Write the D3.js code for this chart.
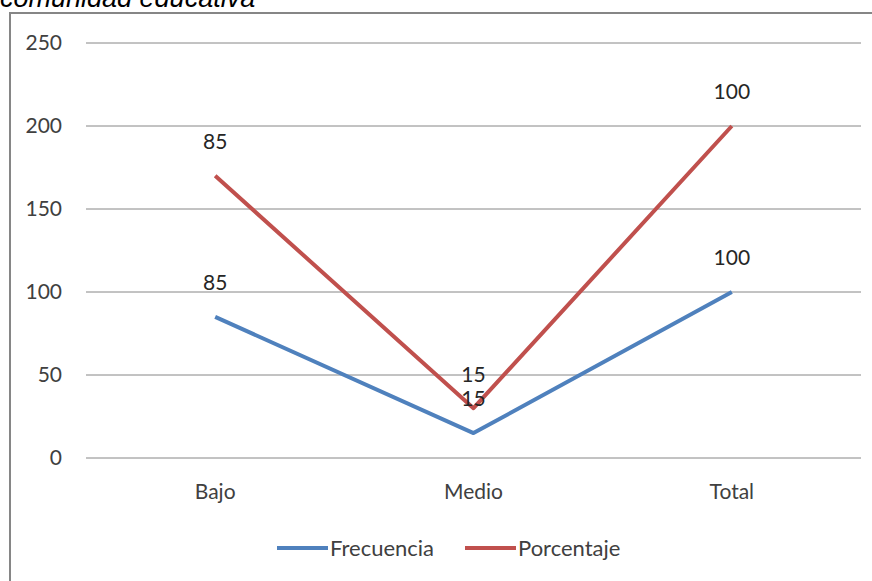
<!DOCTYPE html>
<html><head><meta charset="utf-8">
<script src="https://cdn.jsdelivr.net/npm/d3@7"></script>
<style>body{margin:0;background:#fff;}svg{display:block;}</style>
</head><body>
<svg id="c" width="872" height="581"></svg>
<script>
const categories = ["Bajo", "Medio", "Total"];
const frecuencia = [85, 15, 100];
const porcentaje = [85, 15, 100];
const yTicks = [0, 50, 100, 150, 200, 250];
const seriesNames = ["Frecuencia", "Porcentaje"];
const colors = ["#4F81BD", "#C0504D"];

const svg = d3.select("#c");
const font = "Lato, 'Open Sans', sans-serif";
const fs = 21;

svg.append("text").attr("x", 0).attr("y", 7)
  .attr("font-family", "Arial, 'Liberation Sans', sans-serif")
  .attr("font-style", "italic").attr("font-size", 27).attr("fill", "#000")
  .text("comunidad educativa");

svg.append("rect").attr("x", 10).attr("y", 13).attr("width", 880).attr("height", 600)
  .attr("fill", "#fff").attr("stroke", "#868686").attr("stroke-width", 2);

const x = d3.scaleBand().domain(categories).range([86, 861]);
const y = d3.scaleLinear().domain([0, 250]).range([458, 43]);

const gy = svg.append("g");
yTicks.forEach(t => {
  gy.append("line").attr("x1", 86).attr("x2", 861).attr("y1", y(t)).attr("y2", y(t))
    .attr("stroke", "#868686").attr("stroke-width", 1);
  gy.append("text").attr("x", 62).attr("y", y(t)).attr("dy", "0.35em")
    .attr("text-anchor", "end").attr("font-family", font).attr("font-size", fs)
    .attr("fill", "#404040").text(t);
});
categories.forEach(c => {
  svg.append("text").attr("x", x(c) + x.bandwidth() / 2).attr("y", 492).attr("dy", "0.35em")
    .attr("text-anchor", "middle").attr("font-family", font).attr("font-size", fs)
    .attr("fill", "#404040").text(c);
});

// stacked line
const stacked = [frecuencia, porcentaje.map((v, i) => v + frecuencia[i])];
const raw = [frecuencia, porcentaje];
const line = d3.line().x((d, i) => x(categories[i]) + x.bandwidth() / 2).y(d => y(d));
stacked.forEach((s, k) => {
  svg.append("path").attr("d", line(s)).attr("fill", "none")
    .attr("stroke", colors[k]).attr("stroke-width", 4).attr("stroke-linejoin", "round");
});
stacked.forEach((s, k) => {
  s.forEach((v, i) => {
    svg.append("text").attr("x", x(categories[i]) + x.bandwidth() / 2).attr("y", y(v) - 34)
      .attr("dy", "0.35em").attr("text-anchor", "middle").attr("font-family", font)
      .attr("font-size", fs).attr("fill", "#262626").text(raw[k][i]);
  });
});

// legend
const leg = [{x: 277, tx: 330}, {x: 465, tx: 518}];
seriesNames.forEach((n, k) => {
  svg.append("line").attr("x1", leg[k].x).attr("x2", leg[k].x + 51).attr("y1", 548).attr("y2", 548)
    .attr("stroke", colors[k]).attr("stroke-width", 4);
  svg.append("text").attr("x", leg[k].tx).attr("y", 548).attr("dy", "0.35em")
    .attr("font-family", font).attr("font-size", 22).attr("fill", "#404040").text(n);
});
</script>
</body></html>
